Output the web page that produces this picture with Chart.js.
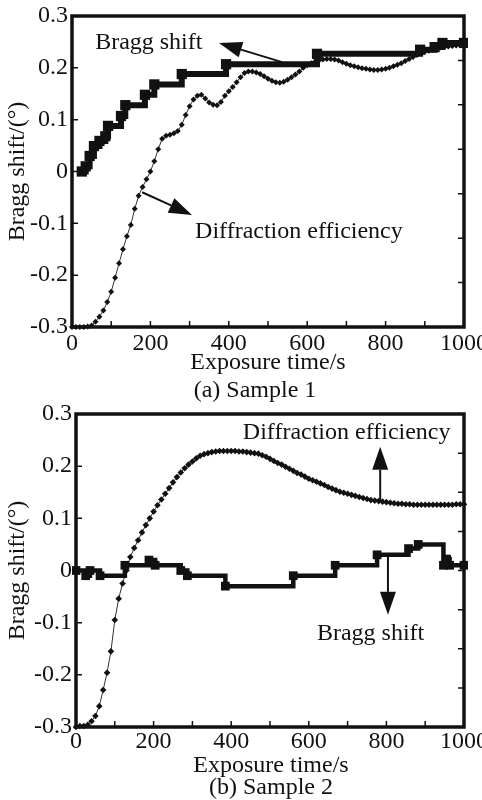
<!DOCTYPE html>
<html>
<head>
<meta charset="utf-8">
<script src="https://cdn.jsdelivr.net/npm/chart.js@4"></script>
<style>
  html, body { margin: 0; padding: 0; background: #fff; overflow: hidden; }
  body { width: 482px; height: 800px; position: relative; }
  .box { position: absolute; left: 0; width: 500px; }
  .cap { position: absolute; font-family: "Liberation Serif", serif; font-size: 24px; line-height: 24px; color: #111; white-space: nowrap; transform: translateX(-50%); }
</style>
</head>
<body>
<div class="box" style="top:0;height:360px"><canvas id="chart1"></canvas></div>
<div class="box" style="top:390px;height:370px"><canvas id="chart2"></canvas></div>
<div class="cap" style="left:268px;top:349px">Exposure time/s</div>
<div class="cap" style="left:255px;top:377px">(a) Sample 1</div>
<div class="cap" style="left:271px;top:752px">Exposure time/s</div>
<div class="cap" style="left:271px;top:774px">(b) Sample 2</div>
<script>
// Axis ticks
const xTicks = [0, 100, 200, 300, 400, 500, 600, 700, 800, 900, 1000];
const yTicks = [-0.3, -0.2, -0.1, 0, 0.1, 0.2, 0.3];

// Sample times of the diffraction efficiency curves (s)
const deTime = [
  0, 10, 20, 30, 40, 50, 60, 70, 80, 90,
  100, 110, 120, 130, 140, 150, 160, 170, 180, 190,
  200, 210, 220, 230, 240, 250, 260, 270, 280, 290,
  300, 310, 320, 330, 340, 350, 360, 370, 380, 390,
  400, 410, 420, 430, 440, 450, 460, 470, 480, 490,
  500, 510, 520, 530, 540, 550, 560, 570, 580, 590,
  600, 610, 620, 630, 640, 650, 660, 670, 680, 690,
  700, 710, 720, 730, 740, 750, 760, 770, 780, 790,
  800, 810, 820, 830, 840, 850, 860, 870, 880, 890,
  900, 910, 920, 930, 940, 950, 960, 970, 980, 990,
  1000
];

// (a) Sample 1
const braggTime1 = [25, 35, 45, 56, 70, 85, 92, 125, 136, 186, 210, 280, 393, 625, 888, 925, 945, 1000];
const bragg1 = [0, 0.01, 0.03, 0.049, 0.059, 0.068, 0.088, 0.107, 0.128, 0.148, 0.168, 0.188, 0.207, 0.227, 0.235, 0.24, 0.248, 0.248];
const de1 = [
  -0.300, -0.300, -0.300, -0.300, -0.299, -0.297, -0.290, -0.280, -0.268, -0.252,
  -0.232, -0.205, -0.177, -0.150, -0.125, -0.103, -0.072, -0.047, -0.030, -0.015,
  0.000, 0.020, 0.043, 0.063, 0.069, 0.071, 0.074, 0.078, 0.090, 0.109,
  0.126, 0.139, 0.146, 0.148, 0.141, 0.133, 0.129, 0.128, 0.134, 0.146,
  0.155, 0.163, 0.172, 0.182, 0.190, 0.193, 0.193, 0.191, 0.188, 0.184,
  0.179, 0.175, 0.172, 0.171, 0.173, 0.177, 0.182, 0.187, 0.193, 0.200,
  0.205, 0.209, 0.212, 0.214, 0.216, 0.217, 0.217, 0.216, 0.214, 0.211,
  0.208, 0.205, 0.203, 0.201, 0.199, 0.198, 0.197, 0.196, 0.196, 0.197,
  0.198, 0.200, 0.203, 0.206, 0.209, 0.213, 0.217, 0.221, 0.225, 0.228,
  0.231, 0.233, 0.235, 0.237, 0.239, 0.240, 0.241, 0.242, 0.243, 0.244,
  0.245
];

// (b) Sample 2
const braggTime2 = [0, 25, 36, 62, 126, 188, 204, 270, 287, 385, 560, 668, 776, 857, 882, 947, 955, 963, 1000];
const bragg2 = [0, -0.01, 0, -0.01, 0.01, 0.02, 0.01, 0, -0.01, -0.03, -0.01, 0.01, 0.03, 0.042, 0.05, 0.01, 0.022, 0.01, 0.01];
const de2 = [
  -0.300, -0.298, -0.298, -0.296, -0.289, -0.279, -0.260, -0.229, -0.196, -0.155,
  -0.095, -0.054, -0.025, 0.000, 0.026, 0.043, 0.058, 0.073, 0.087, 0.100,
  0.113, 0.125, 0.136, 0.147, 0.158, 0.169, 0.179, 0.188, 0.196, 0.203,
  0.209, 0.215, 0.220, 0.223, 0.225, 0.227, 0.228, 0.229, 0.229, 0.229,
  0.229, 0.229, 0.228, 0.228, 0.227, 0.226, 0.225, 0.224, 0.221, 0.218,
  0.214, 0.210, 0.206, 0.203, 0.199, 0.195, 0.191, 0.187, 0.184, 0.180,
  0.176, 0.173, 0.170, 0.167, 0.164, 0.160, 0.157, 0.154, 0.151, 0.149,
  0.147, 0.145, 0.143, 0.141, 0.139, 0.137, 0.135, 0.134, 0.133, 0.132,
  0.131, 0.130, 0.129, 0.128, 0.128, 0.127, 0.127, 0.126, 0.126, 0.126,
  0.126, 0.126, 0.126, 0.126, 0.126, 0.126, 0.126, 0.126, 0.127, 0.127,
  0.127
];

const ink = '#111';
const serif = { family: '"Liberation Serif", "Times New Roman", serif', size: 24, lineHeight: 1 };

// frame round the plot and the inward tick marks
const frame = {
  id: 'frame',
  afterDraw(chart) {
    const { ctx, chartArea: a, scales: { x, y, y2 } } = chart;
    ctx.save();
    ctx.strokeStyle = ink;
    ctx.lineWidth = 1.5;
    ctx.beginPath();
    x.ticks.forEach(t => {
      const p = x.getPixelForValue(t.value);
      ctx.moveTo(p, a.bottom); ctx.lineTo(p, a.bottom - 6);
    });
    y.ticks.forEach(t => {
      const p = y.getPixelForValue(t.value);
      ctx.moveTo(a.left, p); ctx.lineTo(a.left + 6, p);
    });
    y2.ticks.forEach(t => {
      const p = y2.getPixelForValue(t.value);
      ctx.moveTo(a.right, p); ctx.lineTo(a.right - 6, p);
    });
    ctx.stroke();
    ctx.lineWidth = 3.5;
    ctx.strokeRect(a.left, a.top, a.right - a.left, a.bottom - a.top);
    ctx.restore();
  }
};

// text labels with arrows, placed in data units
const notes = {
  id: 'notes',
  afterDraw(chart, args, opts) {
    const { ctx, scales: { x, y } } = chart;
    ctx.save();
    ctx.fillStyle = ink;
    ctx.strokeStyle = ink;
    ctx.font = '24px "Liberation Serif", serif';
    ctx.textBaseline = 'middle';
    ctx.textAlign = 'left';
    (opts.texts || []).forEach(t => {
      ctx.fillText(t.text, x.getPixelForValue(t.x), y.getPixelForValue(t.y));
    });
    (opts.arrows || []).forEach(ar => {
      const x0 = x.getPixelForValue(ar.from[0]), y0 = y.getPixelForValue(ar.from[1]);
      const x1 = x.getPixelForValue(ar.to[0]), y1 = y.getPixelForValue(ar.to[1]);
      const ang = Math.atan2(y1 - y0, x1 - x0);
      const len = 23, half = 8;
      const bx = x1 - len * Math.cos(ang), by = y1 - len * Math.sin(ang);
      ctx.lineWidth = 2;
      ctx.beginPath();
      ctx.moveTo(x0, y0); ctx.lineTo(bx, by);
      ctx.stroke();
      ctx.beginPath();
      ctx.moveTo(x1, y1);
      ctx.lineTo(bx + half * Math.sin(ang), by - half * Math.cos(ang));
      ctx.lineTo(bx - half * Math.sin(ang), by + half * Math.cos(ang));
      ctx.closePath();
      ctx.fill();
    });
    ctx.restore();
  }
};

function pairs(xs, ys) {
  return xs.map((v, i) => ({ x: v, y: ys[i] }));
}

function drawPanel(id, p) {
  const steps = [];
  for (let v = 0; v <= p.rightSteps; v++) steps.push(v);
  return new Chart(document.getElementById(id), {
    type: 'line',
    data: {
      datasets: [
        {
          label: 'Bragg shift',
          data: pairs(p.braggTime, p.bragg),
          stepped: true,
          borderColor: ink,
          backgroundColor: ink,
          borderWidth: p.braggWidth,
          pointStyle: 'rect',
          pointRadius: 3,
          clip: 4
        },
        {
          label: 'Diffraction efficiency',
          data: pairs(deTime, p.de),
          borderColor: '#333',
          backgroundColor: ink,
          borderWidth: 1,
          pointStyle: 'rectRot',
          pointRadius: p.deRadius,
          pointBorderWidth: 0,
          tension: 0,
          clip: 4
        }
      ]
    },
    options: {
      responsive: true,
      maintainAspectRatio: false,
      animation: false,
      layout: { padding: { top: p.top, right: 36, bottom: 0, left: 0 } },
      plugins: {
        legend: { display: false },
        tooltip: { enabled: false },
        notes: p.notes
      },
      scales: {
        x: {
          type: 'linear',
          min: 0,
          max: 1000,
          afterBuildTicks: s => { s.ticks = xTicks.map(v => ({ value: v })); },
          afterFit: s => { s.height = 33; },
          grid: { display: false, drawTicks: false },
          border: { display: false },
          ticks: {
            autoSkip: false,
            maxRotation: 0,
            padding: p.xPad,
            color: ink,
            font: serif,
            callback: v => (v % 200 === 0 ? String(v) : '')
          }
        },
        y: {
          min: -0.3,
          max: 0.3,
          afterBuildTicks: s => { s.ticks = yTicks.map(v => ({ value: v })); },
          afterFit: s => { s.width = p.left; },
          grid: { display: false, drawTicks: false },
          border: { display: false },
          ticks: {
            padding: 4,
            color: ink,
            font: serif,
            callback: v => (v === 0 ? '0' : v.toFixed(1))
          },
          title: {
            display: true,
            text: 'Bragg shift/(°)',
            color: ink,
            font: serif,
            padding: { top: 6, bottom: 0 }
          }
        },
        y2: {
          position: 'right',
          min: 0,
          max: p.rightSteps,
          afterBuildTicks: s => { s.ticks = steps.map(v => ({ value: v })); },
          afterFit: s => { s.width = 0; },
          grid: { display: false, drawTicks: false },
          border: { display: false },
          ticks: { display: false }
        }
      }
    },
    plugins: [frame, notes]
  });
}

drawPanel('chart1', {
  top: 16,
  left: 72,
  rightSteps: 7,
  braggWidth: 6,
  deRadius: 3,
  xPad: 5,
  braggTime: braggTime1,
  bragg: bragg1,
  de: de1,
  notes: {
    texts: [
      { text: 'Bragg shift', x: 59, y: 0.249 },
      { text: 'Diffraction efficiency', x: 314, y: -0.116 }
    ],
    arrows: [
      { from: [536, 0.211], to: [375, 0.248] },
      { from: [179, -0.04], to: [306, -0.084] }
    ]
  }
});

drawPanel('chart2', {
  top: 24,
  left: 76,
  rightSteps: 8,
  braggWidth: 4.5,
  deRadius: 3.3,
  xPad: 3,
  braggTime: braggTime2,
  bragg: bragg2,
  de: de2,
  notes: {
    texts: [
      { text: 'Diffraction efficiency', x: 430, y: 0.265 },
      { text: 'Bragg shift', x: 621, y: -0.121 }
    ],
    arrows: [
      { from: [784, 0.135], to: [784, 0.237] },
      { from: [804, 0.026], to: [804, -0.085] }
    ]
  }
});
</script>
</body>
</html>
